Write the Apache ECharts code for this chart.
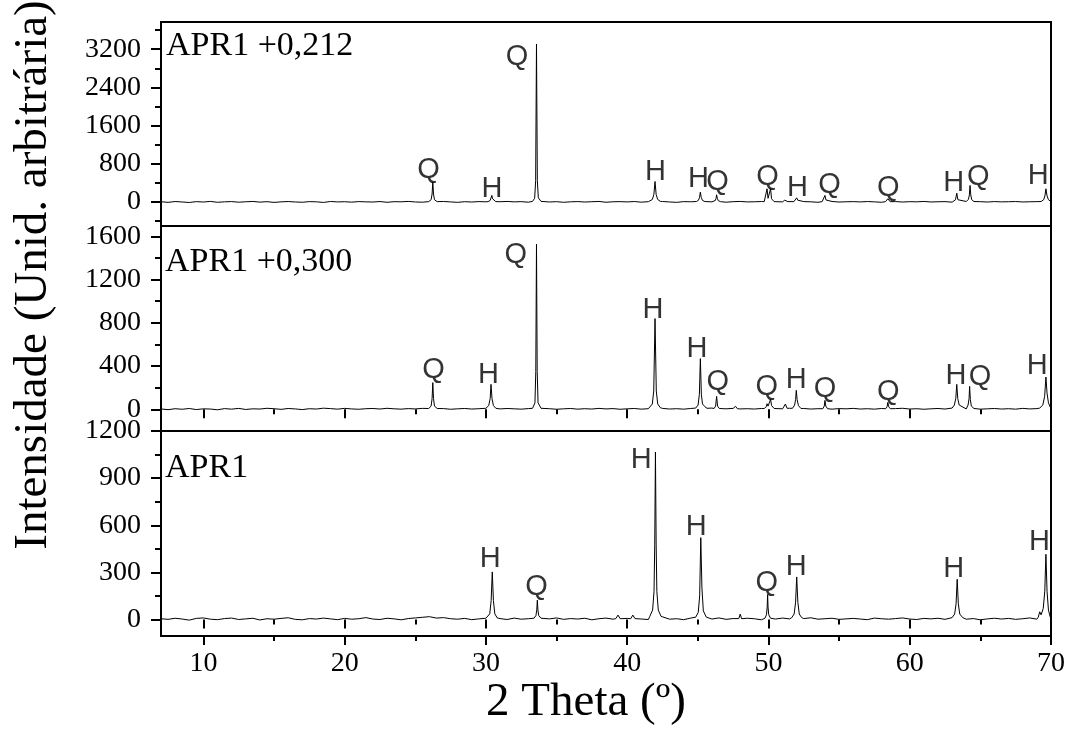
<!DOCTYPE html>
<html>
<head>
<meta charset="utf-8">
<script src="https://cdn.jsdelivr.net/npm/echarts@6/dist/echarts.min.js"></script>
<style>
  html, body { margin: 0; padding: 0; background: #fff; }
  #chart { width: 1074px; height: 729px; }
</style>
</head>
<body>
<div id="chart"></div>
<script>
// ---- Data ----
// baseline 2-theta sample positions (degrees)
const theta = [
  7, 7.5, 8, 8.5, 9, 9.5, 10, 10.5, 11, 11.5,
  12, 12.5, 13, 13.5, 14, 14.5, 15, 15.5, 16, 16.5,
  17, 17.5, 18, 18.5, 19, 19.5, 20, 20.5, 21, 21.5,
  22, 22.5, 23, 23.5, 24, 24.5, 25, 25.5, 26, 26.5,
  27, 27.5, 28, 28.5, 29, 29.5, 30, 30.5, 31, 31.5,
  32, 32.5, 33, 33.5, 34, 34.5, 35, 35.5, 36, 36.5,
  37, 37.5, 38, 38.5, 39, 39.5, 40, 40.5, 41, 41.5,
  42, 42.5, 43, 43.5, 44, 44.5, 45, 45.5, 46, 46.5,
  47, 47.5, 48, 48.5, 49, 49.5, 50, 50.5, 51, 51.5,
  52, 52.5, 53, 53.5, 54, 54.5, 55, 55.5, 56, 56.5,
  57, 57.5, 58, 58.5, 59, 59.5, 60, 60.5, 61, 61.5,
  62, 62.5, 63, 63.5, 64, 64.5, 65, 65.5, 66, 66.5,
  67, 67.5, 68, 68.5, 69, 69.5, 70
];

// baseline intensities (APR1 +0,212)
const baseTop = [
  8, -5, 12, 3, -8, 10, 2, 15, -4, 6,
  11, -2, 7, 14, 0, 9, -6, 5, 12, 3,
  -3, 10, 6, -7, 13, 4, 8, -1, 11, 5,
  2, 12, -4, 9, 6, 15, 3, -2, 10, 7,
  13, 4, -5, 9, 2, 11, 6, -3, 8, 14,
  5, 10, -2, 7, 12, 3, 9, -4, 6, 11,
  2, 8, 14, -3, 7, 10, 4, 12, -1, 9,
  6, 13, 3, -5, 10, 7, 2, 11, 5, 8,
  -2, 9, 14, 4, 7, 12, 0, 10, 5, 8,
  3, 11, 6, -4, 9, 13, 2, 7, 10, 4,
  12, 5, -3, 8, 11, 2, 9, 6, 14, 3,
  7, 10, -1, 6, 13, 4, 9, 2, 11, 5,
  8, 12, 3, 7, 10, 4, 9
];
// baseline intensities (APR1 +0,300)
const baseMid = [
  4, -3, 6, 1, 8, -2, 5, 3, -4, 7,
  2, 9, -1, 5, 3, 10, 6, 0, 8, 4,
  -2, 6, 3, 11, 7, 2, 9, 4, 1, 6,
  8, 3, 10, 5, 2, 7, 4, 9, 6, 3,
  7, 1, 5, 8, 3, 6, 2, 9, 4, 8,
  5, 2, 7, 3, 9, 6, 1, 5, 8, 2,
  6, 3, 9, 4, 7, 1, 5, 8, 2, 6,
  4, 9, 3, 6, 2, 8, 5, 7, 12, 3,
  5, 9, 4, 6, 3, 8, 2, 7, 5, 10,
  4, 8, 3, 6, 11, 2, 7, 5, 9, 3,
  6, 2, 8, 4, 7, 10, 3, 6, 1, 5,
  8, 3, 6, 9, 4, 7, 2, 5, 8, 3,
  6, 2, 9, 4, 7, 3, 8
];
// baseline intensities (APR1)
const baseBot = [
  5, 1, 8, 3, -4, 7, 10, 2, -1, 6,
  9, 0, 4, 8, -3, 5, 2, 7, 11, 1,
  -2, 6, 3, 9, 4, -1, 7, 2, 5, 12,
  3, 0, 8, 4, -2, 6, 10, 14, 18, 9,
  12, 5, 2, 7, -1, 4, 8, 3, 6, 0,
  9, 2, 5, -3, 7, 4, 10, 1, 6, 3,
  8, -2, 5, 9, 2, 4, 7, 11, 3, 0,
  6, 8, 2, 5, -1, 9, 4, 7, 3, 10,
  1, 6, 2, 8, 5, -2, 7, 3, 9, 4,
  0, 6, 11, 2, 5, 8, 1, 4, 7, 3,
  -1, 9, 5, 2, 6, 10, 3, 0, 7, 4,
  8, 1, 5, 9, 2, 6, -2, 4, 8, 3,
  7, 1, 5, 10, 2, 6, 12
];

// diffraction peaks: [2theta, intensity] point groups
const peaksTop = [
  [[25.95, 10], [26.12, 50], [26.19, 170], [26.24, 420], [26.29, 170], [26.36, 50], [26.55, 10]],
  [[30.15, 10], [30.3, 35], [30.37, 70], [30.42, 140], [30.47, 70], [30.55, 30], [30.7, 10]],
  [[33.3, 15], [33.45, 80], [33.52, 450], [33.58, 3310], [33.64, 450], [33.71, 90], [33.9, 15]],
  [[41.6, 15], [41.78, 55], [41.89, 160], [41.97, 432], [42.05, 160], [42.16, 55], [42.35, 15]],
  [[44.9, 12], [45.05, 40], [45.12, 100], [45.18, 209], [45.24, 100], [45.33, 35], [45.5, 12]],
  [[46.1, 10], [46.24, 35], [46.29, 80], [46.33, 153], [46.38, 80], [46.45, 30], [46.6, 10]],
  [[49.7, 10], [49.83, 50], [49.9, 279], [49.97, 80], [50.03, 60], [50.1, 120], [50.15, 279], [50.22, 70], [50.4, 10]],
  [[51.05, 10], [51.15, 40], [51.2, 70], [51.26, 35], [51.38, 10]],
  [[51.8, 10], [51.93, 40], [52.0, 90], [52.07, 40], [52.2, 10]],
  [[53.8, 10], [53.93, 45], [54.0, 140], [54.07, 45], [54.2, 10]],
  [[58.28, 8], [58.38, 30], [58.45, 70], [58.52, 30], [58.62, 8]],
  [[63.1, 12], [63.24, 50], [63.33, 188], [63.41, 50], [63.55, 15]],
  [[64.02, 12], [64.16, 60], [64.22, 150], [64.27, 349], [64.32, 150], [64.39, 50], [64.55, 12]],
  [[69.3, 12], [69.48, 50], [69.57, 130], [69.64, 279], [69.72, 130], [69.82, 50], [69.95, 15]]
];
const peaksMid = [
  [[25.95, 8], [26.12, 30], [26.19, 100], [26.24, 247], [26.29, 100], [26.36, 30], [26.55, 8]],
  [[30.0, 10], [30.2, 35], [30.3, 100], [30.36, 231], [30.43, 100], [30.53, 35], [30.7, 10]],
  [[33.3, 10], [33.47, 60], [33.53, 350], [33.58, 1526], [33.63, 350], [33.69, 60], [33.78, 40], [33.9, 10]],
  [[41.6, 15], [41.78, 50], [41.88, 170], [41.97, 839], [42.06, 170], [42.16, 50], [42.35, 15]],
  [[44.85, 12], [45.02, 40], [45.11, 140], [45.18, 469], [45.25, 140], [45.33, 50], [45.4, 68], [45.5, 25], [45.65, 10]],
  [[46.15, 8], [46.26, 30], [46.33, 120], [46.4, 30], [46.52, 8]],
  [[47.55, 5], [47.67, 28], [47.8, 6]],
  [[49.7, 8], [49.85, 25], [49.9, 52], [49.97, 30], [50.07, 45], [50.15, 92], [50.22, 35], [50.4, 8]],
  [[51.05, 8], [51.2, 49], [51.32, 10]],
  [[51.7, 10], [51.85, 40], [51.92, 90], [51.97, 176], [52.03, 90], [52.12, 35], [52.3, 8]],
  [[53.85, 6], [53.95, 30], [54.0, 83], [54.06, 30], [54.18, 6]],
  [[58.3, 6], [58.4, 25], [58.45, 65], [58.51, 25], [58.62, 6]],
  [[63.0, 12], [63.16, 40], [63.26, 100], [63.33, 231], [63.4, 100], [63.5, 40], [63.62, 25]],
  [[64.02, 20], [64.13, 40], [64.2, 100], [64.24, 213], [64.29, 90], [64.36, 30], [64.55, 8]],
  [[69.2, 12], [69.42, 40], [69.55, 120], [69.64, 299], [69.72, 150], [69.82, 60], [69.95, 20]]
];
const peaksBot = [
  [[30.1, 10], [30.27, 36], [30.37, 120], [30.45, 303], [30.53, 120], [30.63, 36], [30.8, 10]],
  [[33.4, 8], [33.54, 25], [33.6, 60], [33.64, 123], [33.68, 60], [33.74, 25], [33.9, 8]],
  [[39.2, 6], [39.35, 28], [39.5, 5]],
  [[40.25, 5], [40.4, 28], [40.55, 6]],
  [[41.6, 20], [41.8, 60], [41.9, 180], [41.95, 480], [42.0, 1066], [42.05, 480], [42.1, 180], [42.2, 60], [42.4, 20]],
  [[44.85, 15], [45.03, 45], [45.13, 150], [45.21, 521], [45.29, 200], [45.39, 55], [45.6, 15]],
  [[47.9, 6], [48.0, 34], [48.1, 5]],
  [[49.75, 8], [49.86, 30], [49.91, 80], [49.94, 159], [49.97, 80], [50.02, 30], [50.15, 8]],
  [[51.65, 12], [51.82, 35], [51.92, 110], [52.0, 271], [52.08, 110], [52.18, 35], [52.35, 12]],
  [[63.0, 12], [63.18, 35], [63.28, 100], [63.36, 256], [63.44, 100], [63.54, 35], [63.75, 12]],
  [[69.1, 15], [69.2, 49], [69.3, 30], [69.45, 70], [69.56, 180], [69.64, 415], [69.72, 180], [69.82, 60], [69.95, 15]]
];

// phase labels: [2theta, intensity, text]
const labelsTop = [
  [25.94, 662, 'Q'], [30.42, 279, 'H'], [32.2, 3040, 'Q'], [42.0, 627, 'H'], [45.05, 488, 'H'],
  [46.4, 418, 'Q'], [49.94, 523, 'Q'], [52.06, 300, 'H'], [54.33, 348, 'Q'], [58.48, 300, 'Q'],
  [63.12, 397, 'H'], [64.85, 523, 'Q'], [69.1, 537, 'H']
];
const labelsMid = [
  [26.3, 361, 'Q'], [30.18, 314, 'H'], [32.12, 1424, 'Q'], [41.82, 922, 'H'], [44.94, 561, 'H'],
  [46.42, 253, 'Q'], [49.88, 207, 'Q'], [51.97, 268, 'H'], [54.0, 191, 'Q'], [58.48, 160, 'Q'],
  [63.27, 305, 'H'], [64.97, 299, 'Q'], [69.03, 398, 'H']
];
const labelsBot = [
  [30.3, 388, 'H'], [33.58, 208, 'Q'], [41.0, 1017, 'H'], [44.88, 589, 'H'],
  [49.88, 233, 'Q'], [51.97, 335, 'H'], [63.12, 320, 'H'], [69.18, 494, 'H']
];

const sampleNames = ['APR1 +0,212', 'APR1 +0,300', 'APR1'];
const xMajorTicks = [10, 20, 30, 40, 50, 60, 70];
const xMinorTicks = [15, 25, 35, 45, 55, 65];
const yMajorTop = [0, 800, 1600, 2400, 3200];
const yMinorTop = [-400, 400, 1200, 2000, 2800, 3600];
const yMajorMid = [0, 400, 800, 1200, 1600];
const yMinorMid = [200, 600, 1000, 1400];
const yMajorBot = [0, 300, 600, 900, 1200];
const yMinorBot = [150, 450, 750, 1050];
const xTitle = '2 Theta (º)';
const yTitle = 'Intensidade (Unid. arbitrária)';

// ---- Build ----
function buildLine(base, peaks) {
  const ranges = peaks.map(g => [g[0][0], g[g.length - 1][0]]);
  const pts = [];
  theta.forEach((x, i) => {
    if (i < base.length && !ranges.some(r => x >= r[0] && x <= r[1])) pts.push([x, base[i]]);
  });
  peaks.forEach(g => g.forEach(p => pts.push(p)));
  pts.sort((a, b) => a[0] - b[0]);
  return pts;
}

const SERIF = "'Liberation Serif', 'Times New Roman', serif";
const SANS = "'Liberation Sans', Arial, sans-serif";

const grids = [
  { left: 161, width: 890, top: 22, height: 204 },
  { left: 161, width: 890, top: 226, height: 205 },
  { left: 161, width: 890, top: 431, height: 205 }
].map(g => Object.assign(g, { show: true, borderColor: '#000', borderWidth: 2, backgroundColor: 'transparent', containLabel: false }));

const plain = v => String(v);

function xAx(grid, pos, vals, len, inside, labels, extra) {
  return Object.assign({
    gridIndex: grid, type: 'value', min: 7, max: 70, position: pos,
    axisLine: { show: false }, splitLine: { show: false },
    axisTick: vals ? { show: true, inside: inside, length: len, customValues: vals, lineStyle: { color: '#000', width: 2 } } : { show: false },
    axisLabel: labels ? { show: true, customValues: labels, formatter: plain, fontFamily: SERIF, fontSize: 28, color: '#000', margin: 14 } : { show: false }
  }, extra || {});
}
function yAx(grid, min, max, vals, len, labels) {
  return {
    gridIndex: grid, type: 'value', min: min, max: max, position: 'left',
    axisLine: { show: false }, splitLine: { show: false },
    axisTick: { show: true, inside: false, length: len, customValues: vals, lineStyle: { color: '#000', width: 2 } },
    axisLabel: labels ? { show: true, customValues: labels, formatter: plain, fontFamily: SERIF, fontSize: 28, color: '#000', margin: 20 } : { show: false }
  };
}

const xAxes = [
  xAx(0, 'bottom', null, 0, true, null),                  // 0 top panel
  xAx(1, 'top', xMajorTicks, 9, true, null),              // 1 mid panel (series)
  xAx(1, 'top', xMinorTicks, 5, true, null),              // 2
  xAx(2, 'top', xMajorTicks, 9, true, null),              // 3
  xAx(2, 'top', xMinorTicks, 5, true, null),              // 4
  xAx(2, 'bottom', xMajorTicks, 9, false, xMajorTicks, {  // 5 bottom panel (series)
    name: xTitle, nameLocation: 'middle', nameGap: 40,
    nameTextStyle: { fontFamily: SERIF, fontSize: 47, color: '#000', padding: [0, 40, 0, 0] }
  }),
  xAx(2, 'bottom', xMinorTicks, 5, false, null)           // 6
];
const yAxes = [
  yAx(0, -500, 3770, yMajorTop, 10, yMajorTop),
  yAx(0, -500, 3770, yMinorTop, 6, null),
  yAx(1, -200, 1695, yMajorMid, 10, yMajorMid),
  yAx(1, -200, 1695, yMinorMid, 6, null),
  yAx(2, -105, 1200, yMajorBot, 10, yMajorBot),
  yAx(2, -105, 1200, yMinorBot, 6, null)
];

function lineSeries(name, data, xi, yi) {
  return {
    name: name, type: 'line', xAxisIndex: xi, yAxisIndex: yi, data: data,
    showSymbol: false, symbol: 'none', smooth: false, lineStyle: { color: '#000', width: 1 },
    itemStyle: { color: '#000' }, animation: false, clip: true, z: 3
  };
}
function labelSeries(labels, xi, yi) {
  return {
    type: 'scatter', xAxisIndex: xi, yAxisIndex: yi, symbolSize: 0, silent: true, animation: false, z: 4,
    data: labels.map(l => ({ value: [l[0], l[1]], name: l[2] })),
    label: {
      show: true, position: [0, 0], align: 'center', verticalAlign: 'middle',
      formatter: p => p.name, fontFamily: SANS, fontSize: 29, color: '#000'
    }
  };
}

const series = [
  lineSeries(sampleNames[0], buildLine(baseTop, peaksTop), 0, 0),
  lineSeries(sampleNames[1], buildLine(baseMid, peaksMid), 1, 2),
  lineSeries(sampleNames[2], buildLine(baseBot, peaksBot), 5, 4),
  labelSeries(labelsTop, 0, 0),
  labelSeries(labelsMid, 1, 2),
  labelSeries(labelsBot, 5, 4)
];

const txt = (text, x, y, size) => ({
  type: 'text', x: x, y: y, silent: true,
  style: { text: text, fontFamily: SERIF, fontSize: size, fill: '#000', align: 'left', verticalAlign: 'top' }
});

const chart = echarts.init(document.getElementById('chart'), null, { renderer: 'canvas' });
chart.setOption({
  backgroundColor: '#fff',
  animation: false,
  grid: grids,
  xAxis: xAxes,
  yAxis: yAxes,
  series: series,
  graphic: [
    txt(sampleNames[0], 166, 29, 34),
    txt(sampleNames[1], 165, 245, 34),
    txt(sampleNames[2], 165, 451, 34),
    {
      type: 'text', x: 34, y: 275, rotation: Math.PI / 2, silent: true,
      style: { text: yTitle, fontFamily: SERIF, fontSize: 47, fill: '#000', align: 'center', verticalAlign: 'middle' }
    }
  ]
});
</script>
</body>
</html>
